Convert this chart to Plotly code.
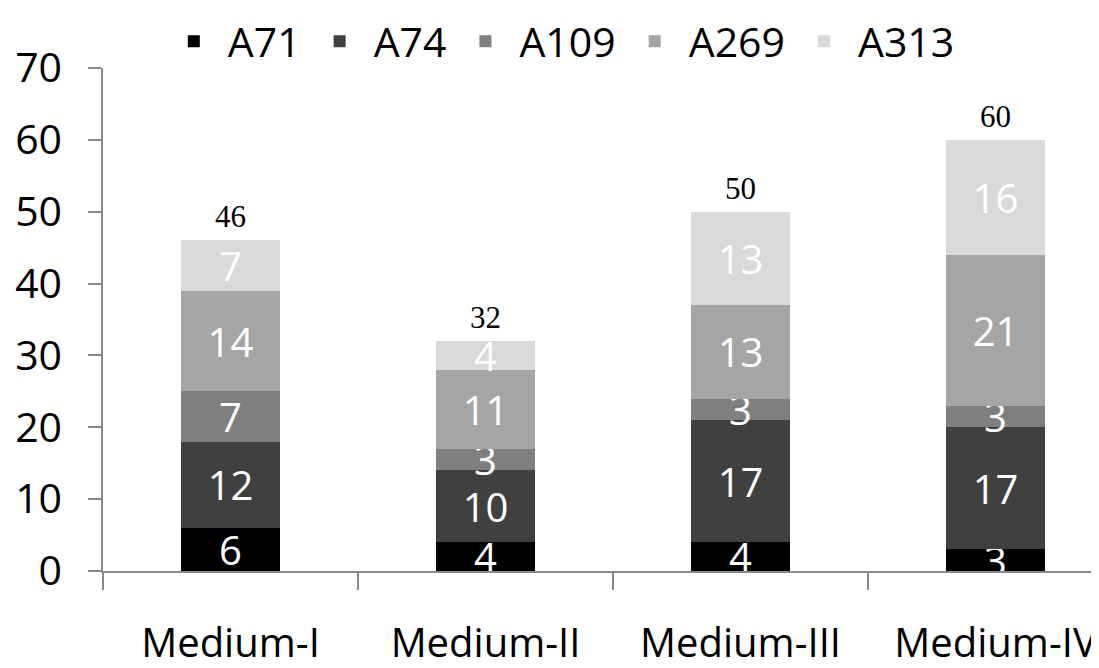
import plotly.graph_objects as go

categories = ["Medium-I", "Medium-II", "Medium-III", "Medium-IV"]
series_names = ["A71", "A74", "A109", "A269", "A313"]
a71 = [6, 4, 4, 3]
a74 = [12, 10, 17, 17]
a109 = [7, 3, 3, 3]
a269 = [14, 11, 13, 21]
a313 = [7, 4, 13, 16]
totals = [46, 32, 50, 60]
colors = ["#000000", "#404040", "#7f7f7f", "#a5a5a5", "#d9d9d9"]
y_ticks = [0, 10, 20, 30, 40, 50, 60, 70]

series_values = [a71, a74, a109, a269, a313]
SANS = "Open Sans"

fig = go.Figure()
for name, vals, col in zip(series_names, series_values, colors):
    fig.add_trace(go.Bar(
        name=name, x=categories, y=vals,
        marker=dict(color=col, line=dict(width=0)),
        width=0.39,
        text=[str(v) for v in vals],
        textposition="inside",
        insidetextanchor="middle",
        textangle=0,
        textfont=dict(color="white", size=40, family=SANS),
        cliponaxis=False,
    ))

for cat, tot in zip(categories, totals):
    fig.add_annotation(x=cat, y=tot, text=str(tot), showarrow=False,
                       yanchor="bottom", yshift=4,
                       font=dict(family="Liberation Serif", size=31, color="black"))

fig.update_layout(
    barmode="stack",
    width=1099, height=668,
    margin=dict(l=95, r=0, t=60, b=105, autoexpand=False),
    plot_bgcolor="white", paper_bgcolor="white",
    uniformtext=dict(minsize=40, mode="show"),
    showlegend=True,
    legend=dict(orientation="h", x=0.455, xanchor="center", y=1.119, yanchor="top",
                font=dict(family=SANS, size=41, color="black"),
                traceorder="normal", itemwidth=58),
    font=dict(family=SANS, color="black"),
)
fig.update_xaxes(
    type="category", range=[-0.5, 3.437],
    showline=True, linecolor="#898989", linewidth=1.5,
    ticks="outside", tickson="boundaries", ticklen=17, tickcolor="#898989", tickwidth=1.5,
    tickfont=dict(family=SANS, size=40, color="black"),
    showgrid=False, zeroline=False, automargin=False,
    ticklabelstandoff=36,
)
fig.update_yaxes(
    range=[0, 70], tickvals=y_ticks,
    showline=True, linecolor="#898989", linewidth=1.5,
    ticks="outside", ticklen=13, tickcolor="#898989", tickwidth=1.5,
    tickfont=dict(family=SANS, size=41, color="black"),
    showgrid=False, zeroline=False, automargin=False,
    ticklabelstandoff=18,
)

fig.write_html("out.html")
